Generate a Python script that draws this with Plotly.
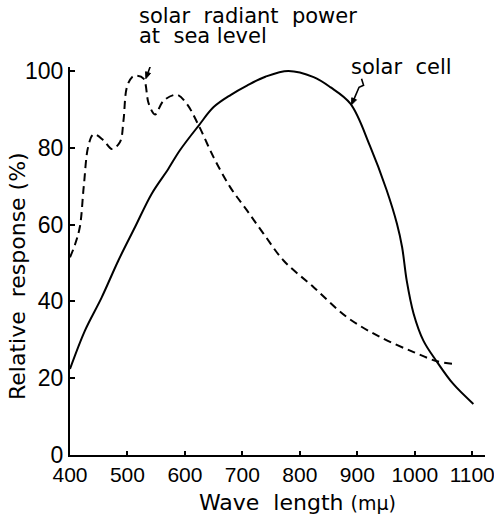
import math
import plotly.graph_objects as go

# ---- data ----
wl_cell = [400, 426, 455, 484, 513, 542, 571, 591, 624, 650, 680, 708, 740, 780,
           824, 853, 888, 922, 951, 969, 978, 986, 998, 1015, 1039, 1067, 1102]
cell = [22.4, 32.4, 41.0, 50.6, 59.3, 68.0, 74.5, 79.3, 85.8, 90.6, 93.8, 96.2, 98.5, 100.0,
        98.4, 95.8, 91.5, 80.5, 69.0, 60.2, 54.1, 45.4, 36.8, 29.8, 24.2, 18.5, 13.3]

wl_sun = [400, 408, 417, 424, 432, 441, 458, 473, 487, 493, 499, 508, 516, 528, 537,
          548, 563, 586, 603, 624, 650, 679, 708, 737, 772, 824, 882, 940, 998, 1039, 1067]
sun = [51.5, 54.5, 59.3, 70.0, 80.5, 83.5, 82.0, 79.7, 81.5, 87.0, 95.8, 98.4, 98.8, 98.0, 91.5,
       88.7, 92.3, 93.8, 91.5, 85.8, 77.5, 69.7, 63.7, 57.6, 50.6, 43.7, 35.9, 30.7, 26.8, 24.4, 23.7]

x_ticks = [400, 500, 600, 700, 800, 900, 1000, 1100]
y_ticks = [0, 20, 40, 60, 80, 100]

TEXT_FONT = "DejaVu Sans"
TICK_FONT = "Liberation Sans"

fig = go.Figure()
fig.add_trace(go.Scatter(x=wl_cell, y=cell, mode="lines",
                         line=dict(color="black", width=2, shape="spline", smoothing=1.0),
                         hoverinfo="skip", showlegend=False))
fig.add_trace(go.Scatter(x=wl_sun, y=sun, mode="lines",
                         line=dict(color="black", width=2, shape="spline", smoothing=1.0,
                                   dash="8px,5px"),
                         hoverinfo="skip", showlegend=False))


def arrow_shapes(xa, ya, pts, head_len=6.5, head_half=2.6):
    """Zigzag arrow drawn in pixel offsets from the target point (y up)."""
    px, py = pts[-1]
    d = math.hypot(px, py)
    ux, uy = px / d, py / d
    bx, by = ux * head_len, uy * head_len
    nx, ny = uy * head_half, -ux * head_half
    path = "M " + " L ".join(f"{x},{y}" for x, y in pts) + f" L {bx:.2f},{by:.2f}"
    head = (f"M 0,0 L {bx + nx:.2f},{by + ny:.2f} L {bx - nx:.2f},{by - ny:.2f} Z")
    common = dict(xref="x", yref="y", xsizemode="pixel", ysizemode="pixel",
                  xanchor=xa, yanchor=ya)
    return [
        dict(type="path", path=path, line=dict(color="black", width=1.6), **common),
        dict(type="path", path=head, fillcolor="black", line=dict(color="black", width=1), **common),
    ]


shapes = []
shapes += arrow_shapes(532, 98.0, [(6.5, 22), (8.5, 15), (4.5, 12.5)])
shapes += arrow_shapes(890, 91.2, [(10, 26), (12, 19.5), (7.5, 17.5)])

annotations = [
    dict(text="solar\u00a0 radiant\u00a0 power", x=137, y=2),
    dict(text="at\u00a0 sea\u00a0level", x=137, y=22),
    dict(text="solar\u00a0 cell", x=349, y=53),
]
# convert pixel placements to paper coordinates
W, H = 494, 522
ML, MR, MT, MB = 70, 9, 67, 67
pw, ph = W - ML - MR, H - MT - MB
ann = []
for a in annotations:
    ann.append(dict(text=a["text"], xref="paper", yref="paper",
                    x=(a["x"] - ML) / pw, y=(H - MB - a["y"]) / ph,
                    xanchor="left", yanchor="top", showarrow=False,
                    font=dict(family=TEXT_FONT, size=21, color="black")))
# axis titles
ann.append(dict(text="Wave\u00a0 length\u00a0<span style='font-size:19px'>(mμ)</span>",
                xref="paper", yref="paper", x=(297 - ML) / pw, y=(H - MB - 502) / ph,
                xanchor="center", yanchor="middle", showarrow=False,
                font=dict(family=TEXT_FONT, size=22, color="black")))
ann.append(dict(text="Relative\u00a0 response\u00a0(%)",
                xref="paper", yref="paper", x=(17 - ML) / pw, y=(H - MB - 276) / ph,
                xanchor="center", yanchor="middle", textangle=-90, showarrow=False,
                font=dict(family=TEXT_FONT, size=22, color="black")))

fig.update_layout(
    width=W, height=H,
    margin=dict(l=ML, r=MR, t=MT, b=MB, autoexpand=False),
    paper_bgcolor="white", plot_bgcolor="white",
    shapes=shapes, annotations=ann,
    xaxis=dict(range=[400, 400 + pw / 0.5746], tickvals=x_ticks, ticktext=[str(v) for v in x_ticks],
               showgrid=False, zeroline=False, showline=True, linecolor="black", linewidth=2,
               ticks="inside", ticklen=4, tickwidth=1.5, tickcolor="black",
               ticklabeloverflow="allow", automargin=False,
               tickfont=dict(family=TICK_FONT, size=21, color="black")),
    yaxis=dict(range=[0, ph / 3.84], tickvals=y_ticks, ticktext=[str(v) for v in y_ticks],
               showgrid=False, zeroline=False, showline=True, linecolor="black", linewidth=2,
               ticks="inside", ticklen=5, tickwidth=1.5, tickcolor="black", automargin=False,
               tickfont=dict(family=TICK_FONT, size=23, color="black")),
)

fig.write_html("out.html")
